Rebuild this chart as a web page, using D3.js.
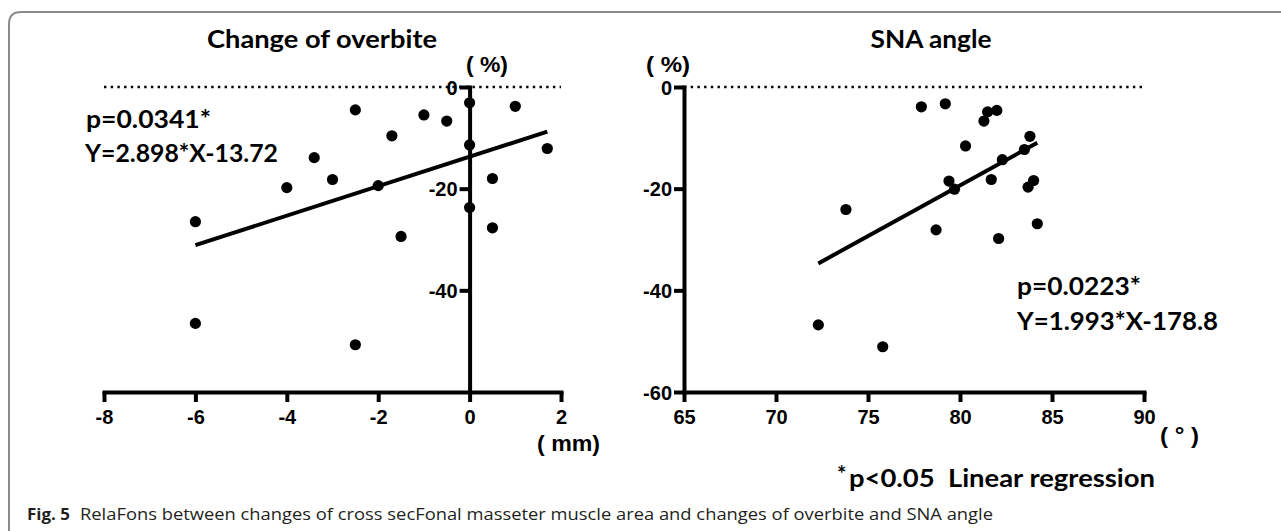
<!DOCTYPE html>
<html>
<head>
<meta charset="utf-8">
<script src="https://cdn.jsdelivr.net/npm/d3@7"></script>
<style>
  html, body { margin: 0; padding: 0; background: #fff; }
  .tick text { font-family: "Liberation Sans Narrow", "Arial Narrow", "Liberation Sans", sans-serif; font-weight: bold; font-size: 20px; fill: #000; }
  .big { font-family: Lato, "Open Sans", sans-serif; font-weight: bold; fill: #000; white-space: pre; }
  .narrow { font-family: "Liberation Sans Narrow", "Arial Narrow", "Liberation Sans", sans-serif; font-weight: bold; fill: #000; white-space: pre; }
</style>
</head>
<body>
<div id="fig"></div>
<script>
// canvas
var w = 1281;
var h = 531;

// change of overbite (mm) vs change of masseter area (%)
var overbiteX = [-2.5, -1, -0.5, 0, 1, -1.7, 0, 1.7, -3.4, -3, -4, -2, 0.5, 0, -6, 0.5, -1.5, -6, -2.5];
var overbiteY = [-4.5, -5.5, -6.7, -3.1, -3.8, -9.6, -11.4, -12.1, -13.9, -18.2, -19.8, -19.4, -18.0, -23.7, -26.5, -27.7, -29.4, -46.5, -50.7];

// SNA angle (deg) vs change of masseter area (%)
var snaX = [77.9, 79.2, 81.5, 82.0, 81.3, 83.8, 80.3, 83.5, 82.3, 79.4, 79.7, 81.7, 84.0, 83.7, 73.8, 84.2, 78.7, 82.1, 72.3, 75.8];
var snaY = [-3.9, -3.3, -4.9, -4.6, -6.7, -9.7, -11.6, -12.3, -14.3, -18.5, -20.1, -18.2, -18.4, -19.7, -24.1, -26.9, -28.1, -29.8, -46.8, -51.1];

// ticks
var overbiteTicks = [-8, -6, -4, -2, 0, 2];
var snaTicks = [65, 70, 75, 80, 85, 90];
var pctTicksLeft = [0, -20, -40];
var pctTicksRight = [0, -20, -40, -60];

// regression results (slope, intercept)
var overbiteFit = [2.898, -13.72];
var snaFit = [1.993, -178.8];

var svg = d3.select("#fig")
            .append("svg")
            .attr("width", w)
            .attr("height", h)
            .style("display", "block");

// frame round the figure
svg.append("path")
   .attr("d", "M9,545 L9,24 Q9,12 21,12 L1290,12")
   .attr("fill", "none")
   .attr("stroke", "#8c8c8c")
   .attr("stroke-width", 2);

function panel(xs, ys, xDomain, xRange, xTicks, yTicks, fit) {
    var xScale = d3.scaleLinear().domain(xDomain).range(xRange);
    var yScale = d3.scaleLinear().domain([-60, 0]).range([392, 87]);
    var x0 = xDomain[0] < 0 ? xScale(0) : xScale(xDomain[0]);

    // dotted zero line
    svg.append("line")
       .attr("x1", xScale(xDomain[0]))
       .attr("x2", xScale(xDomain[1]))
       .attr("y1", yScale(0))
       .attr("y2", yScale(0))
       .attr("stroke", "#000")
       .attr("stroke-width", 2.5)
       .attr("stroke-dasharray", "2.4 4.3");

    var xAxis = d3.axisBottom(xScale)
                  .tickValues(xTicks)
                  .tickSize(10)
                  .tickSizeOuter(0)
                  .tickPadding(8)
                  .tickFormat(function(d){ return String(d); });

    var yAxis = d3.axisLeft(yScale)
                  .tickValues(yTicks)
                  .tickSize(10)
                  .tickSizeOuter(0)
                  .tickPadding(2)
                  .tickFormat(function(d){ return String(d); });

    var gx = svg.append("g")
                .attr("transform", "translate(0," + yScale(-60) + ")")
                .call(xAxis);

    var gy = svg.append("g")
                .attr("transform", "translate(" + x0 + ",0)")
                .call(yAxis);

    [gx, gy].forEach(function(g){
        g.select(".domain").attr("stroke-width", 4).attr("stroke-linecap", "square");
        g.selectAll(".tick line").attr("stroke-width", 4);
        g.selectAll(".tick text").style("font-size", "20px");
    });
    gy.selectAll(".tick text").attr("dy", "0.36em");

    // regression line over the range of x
    var ext = d3.extent(xs);
    svg.append("line")
       .attr("x1", xScale(ext[0]))
       .attr("y1", yScale(fit[0] * ext[0] + fit[1]))
       .attr("x2", xScale(ext[1]))
       .attr("y2", yScale(fit[0] * ext[1] + fit[1]))
       .attr("stroke", "#000")
       .attr("stroke-width", 4);

    // points
    svg.append("g")
       .selectAll("circle")
       .data(xs)
       .enter()
       .append("circle")
       .attr("cx", function(d){ return xScale(d); })
       .attr("cy", function(d, i){ return yScale(ys[i]); })
       .attr("r", 5.6)
       .style("fill", "#000");
}

panel(overbiteX, overbiteY, [-8, 2], [104, 561], overbiteTicks, pctTicksLeft, overbiteFit);
panel(snaX, snaY, [65, 90], [684, 1144], snaTicks, pctTicksRight, snaFit);

// labels
function label(txt, x, y, size, len, cls, anchor) {
    var t = svg.append("text")
       .attr("class", cls)
       .attr("x", x)
       .attr("y", y)
       .attr("text-anchor", anchor || "start")
       .style("font-size", size + "px")
       .text(txt);
    if (len) t.attr("textLength", len).attr("lengthAdjust", "spacingAndGlyphs");
    return t;
}

label("Change of overbite", 322, 48, 25, 230, "big", "middle");
label("SNA angle", 931, 48, 25, 121, "big", "middle");

label("( %)", 466, 72, 22, 42, "narrow");
label("( %)", 646, 72, 22, 44, "narrow");
label("( mm)", 537, 451, 22, 63, "narrow");
label("( \u00b0 )", 1160, 443, 22, 39, "narrow");

label("p=0.0341*", 86, 128, 24, 125, "big");
label("Y=2.898*X-13.72", 85, 162, 24, 193, "big");
label("p=0.0223*", 1017, 295, 24, 124, "big");
label("Y=1.993*X-178.8", 1017, 330, 24, 201, "big");

label("*", 837, 482, 22, null, "big");
label("p<0.05  Linear regression", 849, 487, 25, 306, "big");

// caption
var cap = svg.append("text")
   .attr("y", 520)
   .style("font-family", "'Open Sans', 'Noto Sans', sans-serif")
   .style("font-size", "15.5px")
   .style("fill", "#231f20");
cap.append("tspan")
   .attr("x", 27)
   .style("font-weight", "bold")
   .attr("textLength", 43)
   .attr("lengthAdjust", "spacingAndGlyphs")
   .text("Fig. 5");
cap.append("tspan")
   .attr("x", 80)
   .attr("textLength", 913)
   .attr("lengthAdjust", "spacingAndGlyphs")
   .text("RelaFons between changes of cross secFonal masseter muscle area and changes of overbite and SNA angle");
</script>
</body>
</html>
